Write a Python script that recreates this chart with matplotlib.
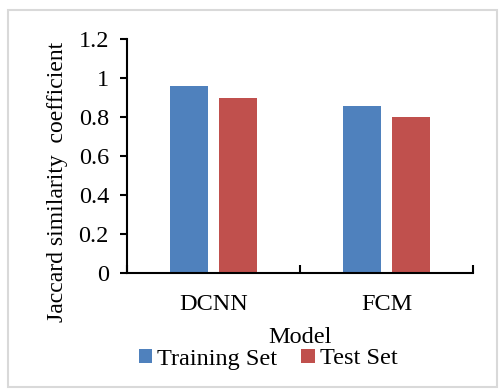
import numpy as np
import matplotlib
matplotlib.use('Agg')
import matplotlib.pyplot as plt
from matplotlib.patches import Rectangle

models = ['DCNN', 'FCM']
training_set = [0.96, 0.855]
test_set = [0.895, 0.80]
yticks = [0, 0.2, 0.4, 0.6, 0.8, 1, 1.2]
ytick_labels = ['0', '0.2', '0.4', '0.6', '0.8', '1', '1.2']

plt.rcParams['font.family'] = ['Liberation Serif', 'DejaVu Serif']
fs = 17.5

fig = plt.figure(figsize=(4.99, 3.9), dpi=100)
ax = fig.add_axes([127 / 499, 1 - 273 / 390, (473 - 127) / 499, (273 - 39) / 390])

# figure border
fig.patches.append(Rectangle((8 / 499, 3 / 390), 1 - 10 / 499, 1 - 13 / 390,
                             transform=fig.transFigure, fill=False,
                             edgecolor='#d9d9d9', linewidth=1.5))

x = np.arange(len(models))
w = 0.22
off = 0.14
ax.bar(x - off, training_set, w, color='#4f81bd', label='Training Set')
ax.bar(x + off, test_set, w, color='#c0504d', label='Test Set')

ax.set_xlim(-0.5, len(models) - 0.5)
ax.set_ylim(0, 1.2)
ax.set_yticks(yticks)
ax.set_yticklabels(ytick_labels)

# category-boundary ticks, Excel style
ax.set_xticks(x)
ax.set_xticklabels(models)
ax.tick_params(axis='x', length=0, labelsize=fs, pad=15)
ax.set_xticks(np.arange(len(models) + 1) - 0.5, minor=True)
ax.tick_params(axis='x', which='minor', length=6, direction='in', width=1.5)
ax.tick_params(axis='y', length=5, direction='out', width=1.5, labelsize=fs, pad=8)

for s in ['top', 'right']:
    ax.spines[s].set_visible(False)
for s in ['left', 'bottom']:
    ax.spines[s].set_linewidth(1.5)

ax.set_ylabel('Jaccard similarity  coefficient', fontsize=17, labelpad=6)
ax.yaxis.set_label_coords(-0.17, 0.39)
ax.set_xlabel('Model', fontsize=fs, labelpad=9)

fig.legend(loc='center', bbox_to_anchor=(268 / 499, 1 - 359 / 390), ncol=2, frameon=False,
           fontsize=fs, handlelength=0.55, handleheight=0.55, handletextpad=0.2,
           columnspacing=1.0, borderaxespad=0, borderpad=0)

fig.savefig('out.png', dpi=100)
